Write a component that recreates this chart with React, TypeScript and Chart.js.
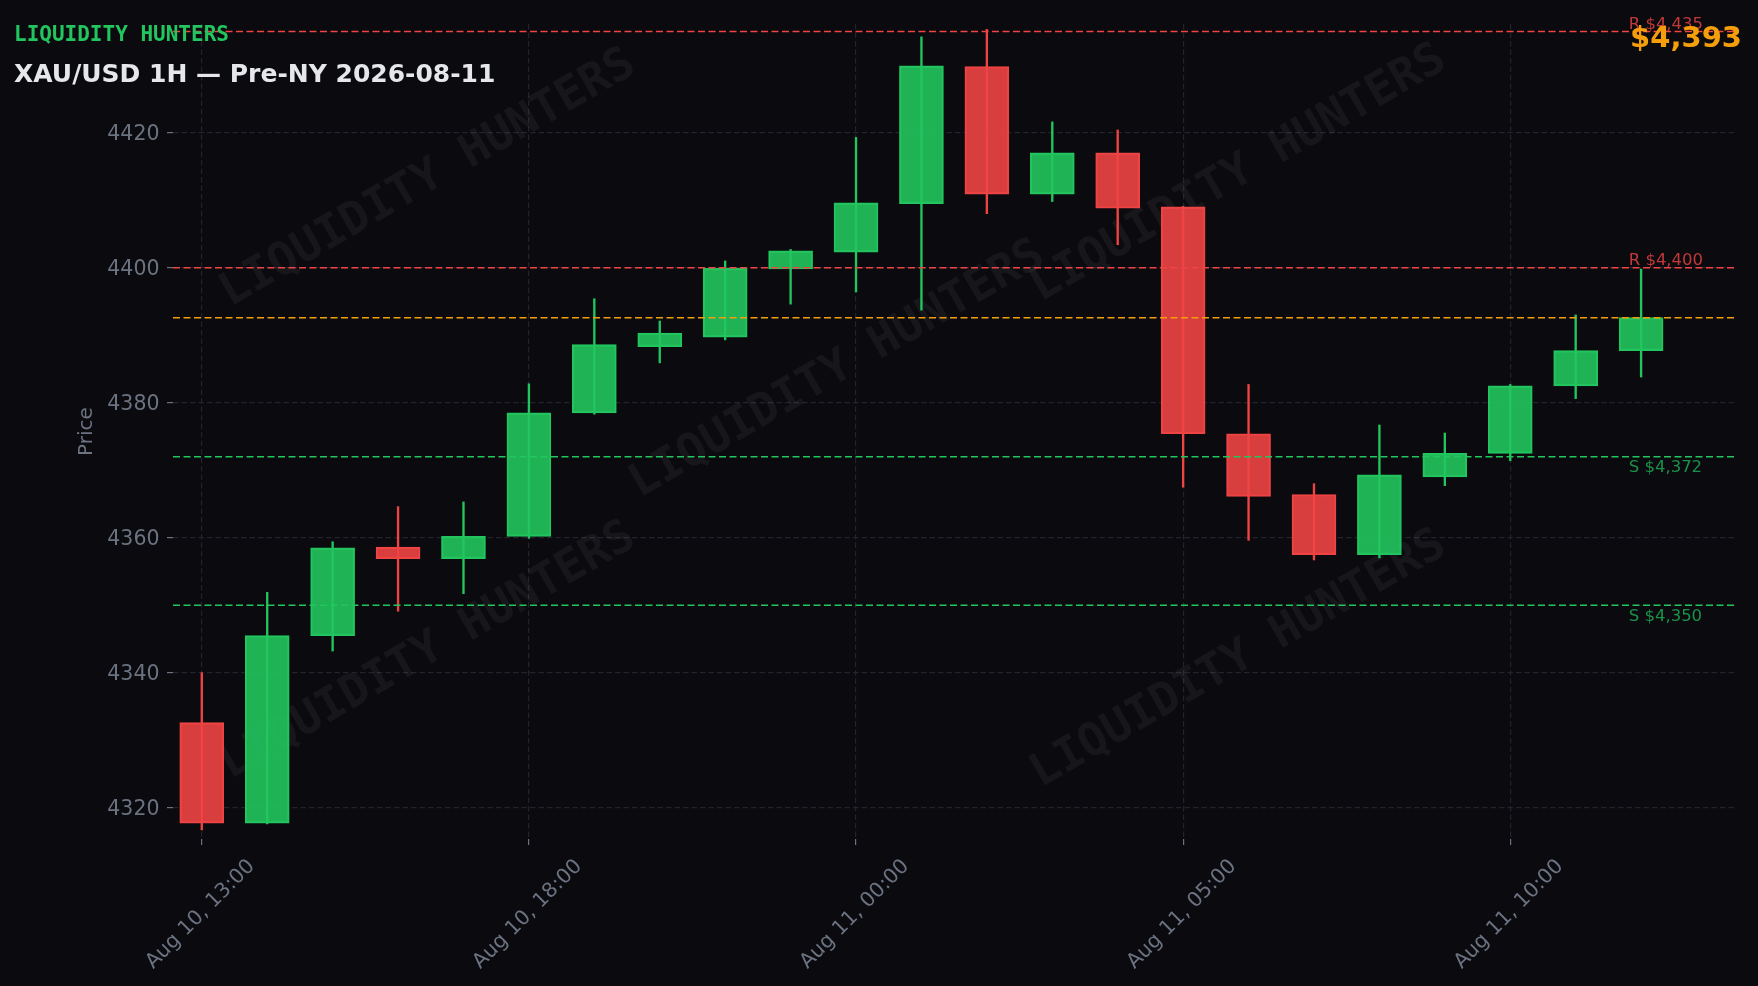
import React, { useEffect, useRef } from 'react';
import { Chart, registerables } from 'chart.js';

Chart.register(...registerables);

// ---------- data ----------
const TIMES = [
  'Aug 10, 13:00', 'Aug 10, 14:00', 'Aug 10, 15:00', 'Aug 10, 16:00', 'Aug 10, 17:00',
  'Aug 10, 18:00', 'Aug 10, 19:00', 'Aug 10, 20:00', 'Aug 10, 21:00', 'Aug 10, 23:00',
  'Aug 11, 00:00', 'Aug 11, 01:00', 'Aug 11, 02:00', 'Aug 11, 03:00', 'Aug 11, 04:00',
  'Aug 11, 05:00', 'Aug 11, 06:00', 'Aug 11, 07:00', 'Aug 11, 08:00', 'Aug 11, 09:00',
  'Aug 11, 10:00', 'Aug 11, 11:00', 'Aug 11, 12:00',
];
const OPEN = [4332.6, 4317.7, 4345.5, 4358.6, 4356.9, 4360.2, 4378.5, 4388.3, 4389.7, 4399.8, 4402.3, 4409.5, 4429.8, 4410.9, 4417.0, 4409.0, 4375.4, 4366.4, 4357.5, 4369.0, 4372.5, 4382.5, 4387.7];
const HIGH = [4340.0, 4351.9, 4359.4, 4364.6, 4365.3, 4382.8, 4395.4, 4392.1, 4401.0, 4402.7, 4419.3, 4434.2, 4435.3, 4421.6, 4420.4, 4409.1, 4382.7, 4368.0, 4376.7, 4375.5, 4382.7, 4393.0, 4399.8];
const LOW = [4316.7, 4317.6, 4343.2, 4349.1, 4351.7, 4359.9, 4378.3, 4385.9, 4389.3, 4394.6, 4396.4, 4393.7, 4408.0, 4409.8, 4403.4, 4367.5, 4359.6, 4356.7, 4357.0, 4367.7, 4371.4, 4380.6, 4383.8];
const CLOSE = [4317.7, 4345.5, 4358.5, 4356.9, 4360.2, 4378.5, 4388.6, 4390.3, 4399.9, 4402.5, 4409.6, 4429.9, 4410.9, 4417.0, 4408.8, 4375.4, 4366.1, 4357.5, 4369.3, 4372.5, 4382.5, 4387.7, 4392.6];

const Y_TICKS = [4320, 4340, 4360, 4380, 4400, 4420];
const X_TICK_INDEX = [0, 5, 10, 15, 20];
const RESISTANCE = [4435, 4400];
const SUPPORT = [4372, 4350];
const CURRENT_PRICE = 4392.6;

const BRAND = 'LIQUIDITY HUNTERS';
const TITLE = 'XAU/USD 1H — Pre-NY 2026-08-11';
const Y_TITLE = 'Price';

// ---------- axis range & layout constants ----------
const X_MIN = -0.44;
const X_MAX = 23.42;
const Y_MIN = 4315.36;
const Y_MAX = 4436.1;
const LEVEL_LABEL_X = 21.81;
const WATERMARK_POS: [number, number][] = [
  [0.1635, 0.19], [0.4257, 0.4245], [0.6826, 0.184], [0.1635, 0.77], [0.6826, 0.78],
];

// ---------- styles ----------
const BG = '#0a0a0f';
const GREEN = '#22c55e';
const RED = '#ef4444';
const GREEN_FILL = 'rgba(34,197,94,0.9)';
const RED_FILL = 'rgba(239,68,68,0.9)';
const ORANGE = '#f59e0b';
const GRID = '#22232b';
const TICK_TEXT = '#6b7280';
const FONT = '"DejaVu Sans", "Liberation Sans", sans-serif';
const MONO = '"DejaVu Sans Mono", "Liberation Mono", monospace';

const fmtPrice = (v: number) => '$' + Math.round(v).toLocaleString('en-US');

const overlayPlugin = {
  id: 'overlay',
  beforeDatasetsDraw(chart: any) {
    const { ctx, chartArea } = chart;
    ctx.save();
    ctx.beginPath();
    ctx.rect(chartArea.left, chartArea.top, chartArea.right - chartArea.left, chartArea.bottom - chartArea.top);
    ctx.clip();
    ctx.fillStyle = 'rgba(255,255,255,0.05)';
    ctx.font = `bold 46px ${MONO}`;
    ctx.textAlign = 'center';
    ctx.textBaseline = 'middle';
    const w = chartArea.right - chartArea.left;
    const h = chartArea.bottom - chartArea.top;
    WATERMARK_POS.forEach(([fx, fy]) => {
      ctx.save();
      ctx.translate(chartArea.left + fx * w, chartArea.top + fy * h);
      ctx.rotate(-Math.PI / 6);
      ctx.fillText(BRAND, 0, 0);
      ctx.restore();
    });
    ctx.restore();
  },
  afterDatasetsDraw(chart: any) {
    const { ctx, scales } = chart;
    const xs = scales.x;
    const ys = scales.y;
    const lx = xs.getPixelForValue(LEVEL_LABEL_X);
    ctx.save();
    ctx.font = `16.5px ${FONT}`;
    ctx.textAlign = 'left';
    ctx.textBaseline = 'alphabetic';
    ctx.fillStyle = 'rgba(239,68,68,0.8)';
    RESISTANCE.forEach((v) => {
      ctx.fillText('R ' + fmtPrice(v), lx, ys.getPixelForValue(v) - 2.5);
    });
    ctx.fillStyle = 'rgba(34,197,94,0.72)';
    SUPPORT.forEach((v) => {
      ctx.fillText('S ' + fmtPrice(v), lx, ys.getPixelForValue(v) + 15.5);
    });
    ctx.restore();
  },
  afterDraw(chart: any) {
    const { ctx } = chart;
    ctx.save();
    ctx.textBaseline = 'alphabetic';
    ctx.textAlign = 'left';
    ctx.fillStyle = GREEN;
    ctx.font = `bold 21px ${MONO}`;
    ctx.fillText(BRAND, 14, 41);
    ctx.fillStyle = '#e5e7eb';
    ctx.font = `bold 25px ${FONT}`;
    ctx.fillText(TITLE, 14, 82);
    ctx.textAlign = 'right';
    ctx.fillStyle = ORANGE;
    ctx.font = `bold 29px ${FONT}`;
    ctx.fillText(fmtPrice(CURRENT_PRICE), 1742, 47);
    ctx.restore();
  },
};

export default function App() {
  const canvasRef = useRef<HTMLCanvasElement>(null);

  useEffect(() => {
    const canvas = canvasRef.current;
    if (!canvas) return;
    const up = OPEN.map((o, i) => CLOSE[i] >= o);
    const edge = up.map((u) => (u ? GREEN : RED));
    const fill = up.map((u) => (u ? GREEN_FILL : RED_FILL));
    const wickData = OPEN.map((_, i) => ({ x: i, y: [LOW[i], HIGH[i]] }));
    const bodyData = OPEN.map((o, i) => ({ x: i, y: [o, CLOSE[i]] }));
    const level = (v: number) => [{ x: X_MIN, y: v }, { x: X_MAX, y: v }];
    const lineDs = (v: number, color: string) => ({
      type: 'line' as const,
      data: level(v),
      borderColor: color,
      borderWidth: 1.5,
      borderDash: [7, 3.5],
      pointRadius: 0,
      fill: false,
      tension: 0,
      order: 0,
    });

    const chart = new Chart(canvas, {
      type: 'bar',
      data: {
        datasets: [
          ...RESISTANCE.map((v) => lineDs(v, RED)),
          lineDs(CURRENT_PRICE, ORANGE),
          ...SUPPORT.map((v) => lineDs(v, GREEN)),
          {
            type: 'bar',
            data: bodyData as any,
            backgroundColor: fill,
            borderColor: edge,
            borderWidth: 1.5,
            borderSkipped: false,
            grouped: false,
            categoryPercentage: 1,
            barPercentage: 1,
            maxBarThickness: 44,
            order: 1,
          },
          {
            type: 'bar',
            data: wickData as any,
            backgroundColor: edge,
            borderWidth: 0,
            grouped: false,
            categoryPercentage: 1,
            barPercentage: 1,
            maxBarThickness: 1.7,
            order: 2,
          },
        ] as any,
      },
      options: {
        responsive: false,
        animation: false,
        events: [],
        layout: { padding: { left: 0, right: 24, top: 24, bottom: 0 } },
        plugins: {
          legend: { display: false },
          tooltip: { enabled: false },
          title: { display: false },
        },
        scales: {
          x: {
            type: 'linear',
            min: X_MIN,
            max: X_MAX,
            offset: false,
            afterBuildTicks: (axis: any) => {
              axis.ticks = X_TICK_INDEX.map((v) => ({ value: v }));
            },
            afterFit: (axis: any) => {
              axis.height = 147;
            },
            grid: {
              offset: false,
              color: GRID,
              lineWidth: 1.2,
              tickColor: TICK_TEXT,
              tickLength: 6,
              tickWidth: 1.2,
            },
            border: { display: false, dash: [5.5, 3] },
            ticks: {
              autoSkip: false,
              minRotation: 45,
              maxRotation: 45,
              includeBounds: false,
              labelOffset: 50,
              padding: 9.5,
              color: TICK_TEXT,
              font: { family: FONT, size: 20.5 },
              callback: (v: any) => TIMES[Number(v)] ?? '',
            },
          },
          y: {
            type: 'linear',
            min: Y_MIN,
            max: Y_MAX,
            afterBuildTicks: (axis: any) => {
              axis.ticks = Y_TICKS.map((v) => ({ value: v }));
            },
            afterFit: (axis: any) => {
              axis.width = 173;
            },
            grid: {
              color: GRID,
              lineWidth: 1.2,
              tickColor: TICK_TEXT,
              tickLength: 6,
              tickWidth: 1.2,
            },
            border: { display: false, dash: [5.5, 3] },
            ticks: {
              includeBounds: false,
              padding: 7.5,
              labelOffset: 1.5,
              color: TICK_TEXT,
              font: { family: FONT, size: 20.5 },
              callback: (v: any) => String(v),
            },
            title: {
              display: true,
              text: Y_TITLE,
              color: TICK_TEXT,
              font: { family: FONT, size: 20 },
              padding: { top: 75, bottom: 0 },
            },
          },
        },
      } as any,
      plugins: [overlayPlugin],
    });

    return () => chart.destroy();
  }, []);

  return (
    <div style={{ position: 'fixed', left: 0, top: 0, width: 1758, height: 986, background: BG, overflow: 'hidden' }}>
      <canvas ref={canvasRef} width={1758} height={986} style={{ display: 'block', width: 1758, height: 986 }} />
    </div>
  );
}
